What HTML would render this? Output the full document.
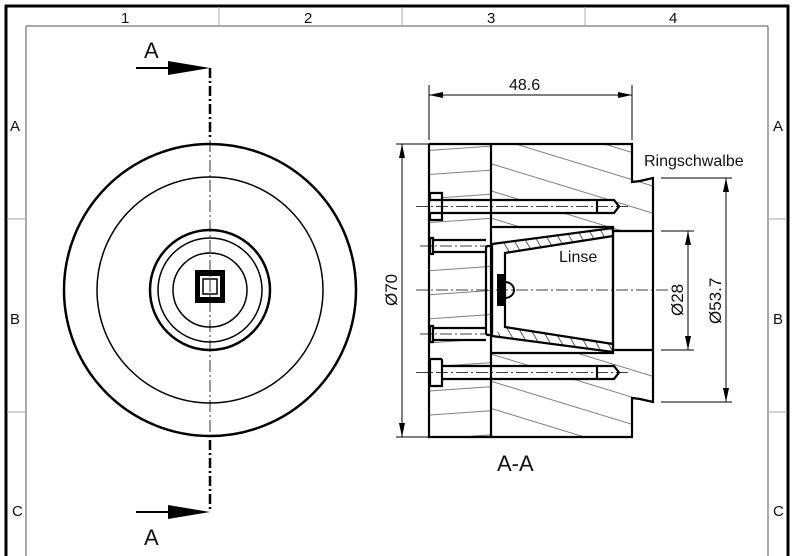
<!DOCTYPE html>
<html><head><meta charset="utf-8"><style>
html,body{margin:0;padding:0;background:#fff;}
svg{display:block;}
text{font-family:"Liberation Sans",sans-serif;fill:#111;}
</style></head><body>
<svg width="800" height="556" viewBox="0 0 800 556" xmlns="http://www.w3.org/2000/svg">
<defs>
<pattern id="h1" patternUnits="userSpaceOnUse" width="60" height="24" patternTransform="rotate(-4)">
<line x1="0" y1="12" x2="60" y2="12" stroke="#555" stroke-width="0.7"/>
</pattern>
<pattern id="h2" patternUnits="userSpaceOnUse" width="60" height="26" patternTransform="rotate(17)">
<line x1="0" y1="13" x2="60" y2="13" stroke="#555" stroke-width="0.7"/>
</pattern>
<pattern id="h3" patternUnits="userSpaceOnUse" width="10" height="10" patternTransform="rotate(60)">
<line x1="0" y1="5" x2="10" y2="5" stroke="#333" stroke-width="0.8"/>
</pattern>
</defs>
<rect width="800" height="556" fill="#fff"/>
<line x1="6" y1="5" x2="6" y2="556" stroke="#000" stroke-width="3"/>
<line x1="5" y1="6" x2="789" y2="6" stroke="#000" stroke-width="3"/>
<line x1="788" y1="5" x2="788" y2="556" stroke="#000" stroke-width="3"/>
<line x1="26" y1="26" x2="26" y2="556" stroke="#555" stroke-width="1"/>
<line x1="26" y1="26" x2="768" y2="26" stroke="#555" stroke-width="1"/>
<line x1="768" y1="26" x2="768" y2="556" stroke="#555" stroke-width="1"/>
<g stroke="#aaa" stroke-width="1">
<line x1="219" y1="7" x2="219" y2="26"/><line x1="402" y1="7" x2="402" y2="26"/><line x1="585" y1="7" x2="585" y2="26"/>
<line x1="7" y1="219" x2="26" y2="219"/><line x1="7" y1="412" x2="26" y2="412"/>
<line x1="768" y1="219" x2="787" y2="219"/><line x1="768" y1="412" x2="787" y2="412"/>
</g>
<g font-size="15">
<text x="121" y="23">1</text><text x="304" y="23">2</text><text x="487" y="23">3</text><text x="669" y="23">4</text>
<text x="10" y="131">A</text><text x="10" y="324">B</text><text x="12" y="516">C</text>
<text x="773" y="131">A</text><text x="773" y="324">B</text><text x="773" y="516">C</text>
</g>
<line x1="136" y1="68" x2="170" y2="68" stroke="#000" stroke-width="2"/>
<polygon points="168,61 210,68 168,75" fill="#000"/>
<text x="144" y="58" font-size="22">A</text>
<line x1="136" y1="512" x2="170" y2="512" stroke="#000" stroke-width="2"/>
<polygon points="168,505 210,512 168,519" fill="#000"/>
<text x="144" y="545" font-size="22">A</text>
<line x1="210" y1="68" x2="210" y2="140" stroke="#000" stroke-width="2.5" stroke-dasharray="10,3,2,3"/>
<line x1="210" y1="440" x2="210" y2="512" stroke="#000" stroke-width="2.5" stroke-dasharray="10,3,2,3"/>
<g fill="none" stroke="#000">
<circle cx="210" cy="290" r="146" stroke-width="2.5"/>
<circle cx="210" cy="290" r="113" stroke-width="1.5"/>
<circle cx="210" cy="290" r="60" stroke-width="2.5"/>
<circle cx="210" cy="290" r="52" stroke-width="1.5"/>
<circle cx="210" cy="290" r="37" stroke-width="1.5"/>
</g>
<rect x="195" y="270" width="30" height="33" fill="#000"/>
<rect x="200" y="276" width="20" height="21" fill="#fff"/>
<rect x="203" y="279" width="14" height="15" fill="none" stroke="#000" stroke-width="1.5"/>
<line x1="210" y1="140" x2="210" y2="440" stroke="#000" stroke-width="0.8" stroke-dasharray="12,3,2,3"/>
<polygon points="491,144 632,144 632,182 640,181 653,178 653,402 640,399 632,398 632,437 491,437" fill="url(#h2)" stroke="none"/>
<rect x="429" y="144" width="62" height="293" fill="url(#h1)"/>
<rect x="491" y="227" width="122" height="126" fill="#fff"/>
<rect x="613" y="231" width="40" height="119" fill="#fff"/>
<polygon points="492,244 613,228 613,236 505,253" fill="url(#h3)" stroke="none"/>
<polygon points="492,336 613,352 613,344 505,327" fill="url(#h3)" stroke="none"/>
<rect x="430" y="200" width="187" height="13" fill="#fff"/>
<rect x="430" y="366" width="187" height="13" fill="#fff"/>
<rect x="430" y="193" width="12" height="27" fill="#fff"/>
<rect x="430" y="359" width="12" height="27" fill="#fff"/>
<rect x="430" y="239" width="61" height="13" fill="#fff"/>
<rect x="430" y="328" width="61" height="13" fill="#fff"/>
<g fill="none" stroke="#000" stroke-width="2.2">
<polyline points="429,144 632,144 632,182 640,181 653,178 653,402 640,399 632,398 632,437 429,437 429,144"/>
<line x1="491" y1="144" x2="491" y2="437"/>
<polyline points="491,227 613,227 613,353 491,353"/>
<polyline points="613,231 653,231"/><polyline points="613,350 653,350"/>
<polygon points="492,244 613,228 613,352 492,336"/>
<polyline points="613,236 505,253 505,327 613,344"/>
<rect x="486" y="246" width="6" height="89" rx="2"/>
<polyline points="442,200 430,200 430,193 442,193 442,220 430,220 430,213 442,213"/>
<line x1="442" y1="200" x2="610" y2="200"/><line x1="442" y1="213" x2="610" y2="213"/>
<polyline points="610,200 614,200 619,206.5 614,213 610,213"/>
<line x1="597" y1="200" x2="597" y2="213"/>
<polyline points="442,359 430,359 430,386 442,386 442,359"/>
<line x1="442" y1="366" x2="610" y2="366"/><line x1="442" y1="379" x2="610" y2="379"/>
<polyline points="610,366 614,366 619,372.5 614,379 610,379"/>
<line x1="597" y1="366" x2="597" y2="379"/>
<rect x="430" y="238" width="3" height="16"/><line x1="433" y1="240" x2="486" y2="240"/><line x1="433" y1="252" x2="486" y2="252"/>
<rect x="430" y="326" width="3" height="16"/><line x1="433" y1="328" x2="486" y2="328"/><line x1="433" y1="340" x2="486" y2="340"/>
</g>
<rect x="497" y="274" width="8" height="32" fill="#000"/>
<path d="M505,282 A9,8 0 0 1 505,298" fill="none" stroke="#000" stroke-width="2"/>
<g stroke="#000" stroke-width="0.7" stroke-dasharray="12,3,2,3">
<line x1="416" y1="290" x2="668" y2="290"/>
<line x1="416" y1="206.5" x2="630" y2="206.5"/>
<line x1="416" y1="372.5" x2="630" y2="372.5"/>
<line x1="420" y1="246" x2="486" y2="246"/>
<line x1="420" y1="334" x2="486" y2="334"/>
</g>
<g stroke="#000" stroke-width="1" fill="none">
<line x1="429" y1="85" x2="429" y2="140"/><line x1="632" y1="85" x2="632" y2="140"/>
<line x1="429" y1="95" x2="632" y2="95"/>
<line x1="396" y1="144" x2="429" y2="144"/><line x1="396" y1="437" x2="429" y2="437"/>
<line x1="402" y1="144" x2="402" y2="437"/>
<line x1="661" y1="231" x2="694" y2="231"/><line x1="661" y1="350" x2="694" y2="350"/>
<line x1="688" y1="231" x2="688" y2="350"/>
<line x1="661" y1="178" x2="732" y2="178"/><line x1="661" y1="402" x2="732" y2="402"/>
<line x1="726" y1="178" x2="726" y2="402"/>
</g>
<g fill="#000">
<polygon points="429,95 443,92 443,98"/><polygon points="632,95 618,92 618,98"/>
<polygon points="402,144 399,158 405,158"/><polygon points="402,437 399,423 405,423"/>
<polygon points="688,231 685,245 691,245"/><polygon points="688,350 685,336 691,336"/>
<polygon points="726,178 723,192 729,192"/><polygon points="726,402 723,388 729,388"/>
</g>
<text x="509" y="90" font-size="16">48.6</text>
<text transform="translate(397,306) rotate(-90)" font-size="17">Ø70</text>
<text transform="translate(683,316) rotate(-90)" font-size="17">Ø28</text>
<text transform="translate(721,324) rotate(-90)" font-size="17">Ø53.7</text>
<text x="644" y="166" font-size="16">Ringschwalbe</text>
<text x="559" y="262" font-size="16">Linse</text>
<text x="497" y="471" font-size="22">A-A</text>
</svg>
</body></html>
